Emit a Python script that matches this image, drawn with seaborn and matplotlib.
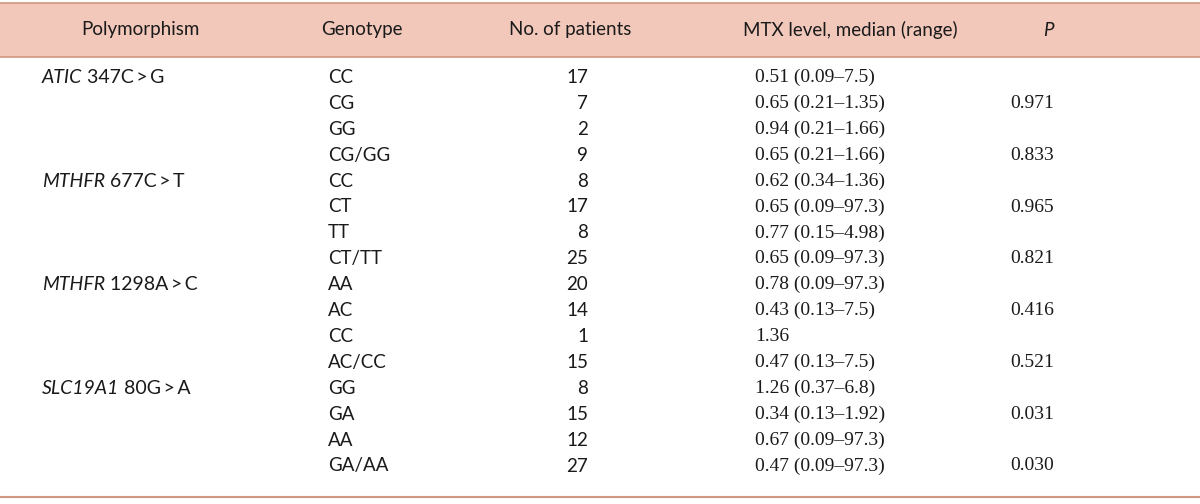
import matplotlib.pyplot as plt
import seaborn as sns

# table data
genes = ["ATIC", "MTHFR", "MTHFR", "SLC19A1"]
variants = ["347C\u2009>\u2009G", "677C\u2009>\u2009T", "1298A\u2009>\u2009C", "80G\u2009>\u2009A"]
gene_rows = [0, 4, 8, 12]
genotypes = ["CC", "CG", "GG", "CG/GG", "CC", "CT", "TT", "CT/TT",
             "AA", "AC", "CC", "AC/CC", "GG", "GA", "AA", "GA/AA"]
patients = [17, 7, 2, 9, 8, 17, 8, 25, 20, 14, 1, 15, 8, 15, 12, 27]
mtx = ["0.51 (0.09\u20137.5)", "0.65 (0.21\u20131.35)", "0.94 (0.21\u20131.66)",
       "0.65 (0.21\u20131.66)", "0.62 (0.34\u20131.36)", "0.65 (0.09\u201397.3)",
       "0.77 (0.15\u20134.98)", "0.65 (0.09\u201397.3)", "0.78 (0.09\u201397.3)",
       "0.43 (0.13\u20137.5)", "1.36", "0.47 (0.13\u20137.5)",
       "1.26 (0.37\u20136.8)", "0.34 (0.13\u20131.92)", "0.67 (0.09\u201397.3)",
       "0.47 (0.09\u201397.3)"]
pvals = ["", "0.971", "", "0.833", "", "0.965", "", "0.821",
         "", "0.416", "", "0.521", "", "0.031", "", "0.030"]
headers = ["Polymorphism", "Genotype", "No. of patients",
           "MTX level, median (range)", "P"]

sns.set_theme(style="white")
sans = ["Lato", "DejaVu Sans"]
serif = ["Liberation Serif", "DejaVu Serif"]
plt.rcParams['font.family'] = sans

fig = plt.figure(figsize=(12, 5.04), dpi=100)
ax = fig.add_axes([0, 0, 1, 1])
ax.set_xlim(0, 1200)
ax.set_ylim(504, 0)
ax.axis("off")

fill = "#f2c8bb"
line = "#cf977f"
ax.axhspan(3, 57, color=fill, lw=0)
ax.axhline(3, color=line, lw=1.2)
ax.axhline(57, color=line, lw=1.2)
ax.axhline(497, color=line, lw=1.5)

fs = 13.5
txt = "#1a1a1a"
hx = [140, 362, 570, 850, 1048]
for x, h in zip(hx, headers):
    ax.text(x, 30, h, ha="center", va="center", fontsize=fs,
            style="italic" if h == "P" else "normal", color=txt)

y0, dy = 77.5, 25.9
for i in range(len(genotypes)):
    y = y0 + dy * i
    ax.text(328, y, genotypes[i], ha="left", va="center", fontsize=fs, color=txt)
    ax.text(588, y, str(patients[i]), ha="right", va="center", fontsize=fs, color=txt)
    ax.text(755, y, mtx[i], ha="left", va="center", fontsize=fs + 0.5,
            family=serif, color=txt)
    if pvals[i]:
        ax.text(1010, y, pvals[i], ha="left", va="center", fontsize=fs + 0.5,
                family=serif, color=txt)

# gene name in italics, variant upright right after it
for g, v, r in zip(genes, variants, gene_rows):
    y = y0 + dy * r
    t = ax.text(42, y, g, ha="left", va="center", fontsize=fs + 0.5,
                style="italic", color=txt)
    ax.annotate(" " + v, xy=(1, 0.5), xycoords=t, ha="left", va="center",
                fontsize=fs + 0.5, color=txt)

fig.savefig("out.png", dpi=100)
